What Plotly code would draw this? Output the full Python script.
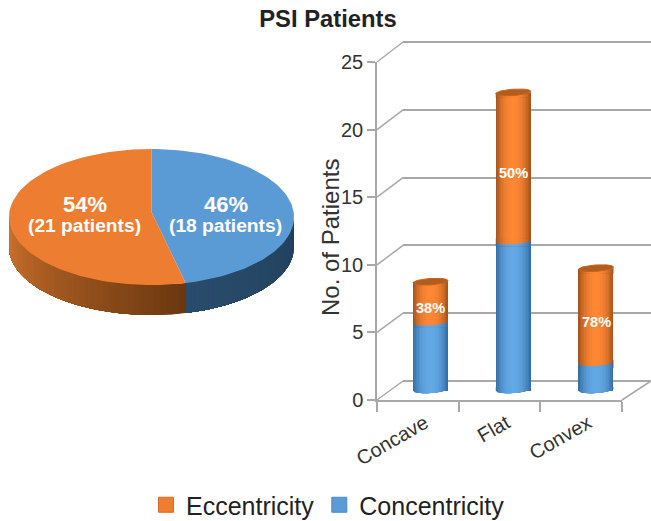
import numpy as np
import plotly.graph_objects as go

# ---- data ----
categories = ["Concave", "Flat", "Convex"]
concentricity = [5, 11, 2]
eccentricity = [3, 11, 7]
pie_names = ["Concentricity", "Eccentricity"]
pie_patients = [18, 21]
y_ticks = [0, 5, 10, 15, 20, 25]

# ---- styling ----
W, H = 651, 521
FONT = "Liberation Sans"
GREY = "#a8a8a8"
TXT = "#333333"
ORANGE, BLUE = "#ED7D31", "#5B9BD5"


def lerp(c1, c2, t):
    a = [int(c1[i:i + 2], 16) for i in (1, 3, 5)]
    b = [int(c2[i:i + 2], 16) for i in (1, 3, 5)]
    return "rgb(%d,%d,%d)" % tuple(round(p + (q - p) * t) for p, q in zip(a, b))


def xdom(a, b):
    return [a / W, b / W]


def ydom(top, bottom):
    return [(H - bottom) / H, (H - top) / H]


fig = go.Figure()

# ---- front axis (ticks and labels) : x / y ----
fig.add_trace(go.Scatter(x=categories, y=[0, 0, 0], mode="none", showlegend=False, hoverinfo="skip"))
# legend entries
for name, col, edge in [("Eccentricity", ORANGE, "#E4691B"), ("Concentricity", BLUE, "#4A8CCB")]:
    fig.add_trace(go.Scatter(x=[None], y=[None], mode="markers", name=name,
                             marker=dict(symbol="square", size=15, color=col, line=dict(color=edge, width=1))))

# ---- back wall grid : x2 / y2 ----
fig.add_trace(go.Scatter(x=[0], y=[0], mode="none", xaxis="x2", yaxis="y2", showlegend=False, hoverinfo="skip"))

# ---- cylinders : x3 / y3 ----
PX_UNIT = 13.52
BAR_W = 35 / 82.75
A = BAR_W / 2
ARC = 3.2 / PX_UNIT
TILT = 1.15 / PX_UNIT
LAP = 0.3
pos = list(range(len(categories)))
totals = [c + e for c, e in zip(concentricity, eccentricity)]
N = 12
fracs = [1 - i / N for i in range(N)]


def shade(base_edge, base_mid, f):
    return lerp(base_mid, base_edge, f ** 2.4)


ORANGE_EDGE, ORANGE_MID = "#A9551C", "#FD8733"
BLUE_EDGE, BLUE_MID = "#3670A8", "#62A8E4"


def arc_y(level, dx):
    return level + TILT + TILT * dx / A - ARC * np.sqrt(np.clip(1 - (dx / A) ** 2, 0, 1))


def under_arc(levels, half):
    """Fill from a little below each level up to the curved edge (or the level, if higher)."""
    xs, ys = [], []
    for p, lv in zip(pos, levels):
        dx = np.linspace(-half, half, 25)
        xs += list(p + dx) + [p + half, p - half, None]
        ys += list(np.maximum(arc_y(lv, dx), lv)) + [lv - LAP, lv - LAP, None]
    return xs, ys


def over_arc(levels, half):
    """Fill from the curved edge up to a little above each level."""
    xs, ys = [], []
    for p, lv in zip(pos, levels):
        dx = np.linspace(-half, half, 25)
        arc = arc_y(lv, dx)
        xs += list(p + dx) + list(p + dx[::-1]) + [None]
        ys += list(arc) + list(np.maximum(arc, lv + LAP)[::-1]) + [None]
    return xs, ys


for f in fracs:
    w = BAR_W * f
    oc, bc = shade(ORANGE_EDGE, ORANGE_MID, f), shade(BLUE_EDGE, BLUE_MID, f)
    fig.add_trace(go.Bar(x=pos, y=concentricity, base=[0, 0, 0], width=w, marker=dict(color=bc, line_width=0),
                         xaxis="x3", yaxis="y3", showlegend=False, name="Concentricity"))
    fig.add_trace(go.Bar(x=pos, y=eccentricity, base=concentricity, width=w, marker=dict(color=oc, line_width=0),
                         xaxis="x3", yaxis="y3", showlegend=False, name="Eccentricity"))
for f in fracs:
    half = A * f
    oc, bc = shade(ORANGE_EDGE, ORANGE_MID, f), shade(BLUE_EDGE, BLUE_MID, f)
    for maker, levels, col in [(over_arc, [0, 0, 0], bc), (under_arc, concentricity, bc),
                               (over_arc, concentricity, oc), (under_arc, totals, oc)]:
        xs, ys = maker(levels, half)
        fig.add_trace(go.Scatter(x=xs, y=ys, mode="lines", fill="toself", fillcolor=col, line_width=0,
                                 xaxis="x3", yaxis="y3", showlegend=False, hoverinfo="skip"))
# top ellipses
t = np.linspace(0, 2 * np.pi, 60)
xs, ys = [], []
for p, v in zip(pos, totals):
    dx = A * np.cos(t)
    xs += list(p + dx) + [None]
    ys += list(v + TILT + TILT * dx / A + ARC * np.sin(t)) + [None]
fig.add_trace(go.Scatter(x=xs, y=ys, mode="lines", fill="toself", fillcolor="#B45C1C", line=dict(color="#C0641F", width=1),
                         xaxis="x3", yaxis="y3", showlegend=False, hoverinfo="skip"))

# ---- pie : x4 / y4 ----
DEPTH = 30 / 68
APEX = 5 / 68
shares = np.array(pie_patients) / sum(pie_patients)
cuts = np.concatenate([[0], np.cumsum(shares)]) * 2 * np.pi


def rim(a0, a1, n=80):
    a = np.linspace(a0, a1, n)
    return np.sin(a), np.cos(a)


wall_cols = [("#21405C", "#2A4C6C"), ("#6B3810", "#D0742E")]  # start / end colour of each wall
for i in range(2):
    a0, a1 = max(cuts[i], np.pi / 2), min(cuts[i + 1], 1.5 * np.pi)
    edges = np.linspace(a0, a1, 41)
    for k in range(40):
        # each strip reaches to the end of the wall, so that no seams show between strips
        ax, ay = rim(edges[k], a1, 60)
        c = lerp(wall_cols[i][0], wall_cols[i][1], k / 39)
        fig.add_trace(go.Scatter(x=list(ax) + list(ax[::-1]), y=list(ay) + list(ay[::-1] - DEPTH), mode="lines",
                                 fill="toself", fillcolor=c, line_width=0, xaxis="x4", yaxis="y4",
                                 showlegend=False, hoverinfo="skip"))
for i, col in enumerate([BLUE, ORANGE]):
    ax, ay = rim(cuts[i], cuts[i + 1])
    fig.add_trace(go.Scatter(x=[0] + list(ax) + [0], y=[APEX] + list(ay) + [APEX], mode="lines", fill="toself",
                             fillcolor=col, line_width=0, xaxis="x4", yaxis="y4", showlegend=False,
                             name=pie_names[i], hoverinfo="name"))

# ---- annotations ----
ann = []
for i, c in enumerate(categories):
    pct = round(100 * eccentricity[i] / totals[i])
    ann.append(dict(x=i, y=concentricity[i] + eccentricity[i] / 2, xref="x3", yref="y3", yshift=-5, showarrow=False,
                    text=f"<b>{pct}%</b>", font=dict(family=FONT, size=14.5, color="white")))
for i, (xp, n) in enumerate(zip([0.52, -0.47], pie_patients)):
    ann.append(dict(x=xp, y=0.19, xref="x4", yref="y4", showarrow=False, text=f"<b>{round(100 * shares[i])}%</b>",
                    font=dict(family=FONT, size=22, color="white")))
    ann.append(dict(x=xp, y=-0.12, xref="x4", yref="y4", showarrow=False, text=f"<b>({n} patients)</b>",
                    font=dict(family=FONT, size=19.2, color="white")))
ann.append(dict(x=330 / W, y=1 - 238 / H, xref="paper", yref="paper", showarrow=False, textangle=-90,
                text="No. of Patients", font=dict(family=FONT, size=24, color=TXT)))

# ---- perspective connectors (depth edges of the box) ----
shapes = []
FRONT = dict(x=377, y0=400, unit=13.52)
BACK = dict(x=403, y0=381, unit=13.56)


def line(x0, y0, x1, y1):
    return dict(type="line", xref="paper", yref="paper", layer="below",
                x0=x0 / W, y0=1 - y0 / H, x1=x1 / W, y1=1 - y1 / H, line=dict(color=GREY, width=1.5))


for v in y_ticks:
    shapes.append(line(FRONT["x"], FRONT["y0"] - v * FRONT["unit"], BACK["x"], BACK["y0"] - v * BACK["unit"]))
shapes.append(line(622, 400, 651, 381))

fig.update_layout(
    width=W, height=H, autosize=False,
    margin=dict(l=0, r=0, t=0, b=0, autoexpand=False),
    paper_bgcolor="white", plot_bgcolor="rgba(0,0,0,0)",
    font=dict(family=FONT, color=TXT),
    barmode="overlay", bargap=0,
    title=dict(text="<b>PSI Patients</b>", x=328 / W, xanchor="center", y=1 - 19 / H, yanchor="middle",
               font=dict(family=FONT, size=23.8, color="#222222")),
    legend=dict(orientation="h", x=146 / W, xanchor="left", y=1 - 505 / H, yanchor="middle",
                font=dict(family=FONT, size=25, color="#222222"), itemclick=False, itemdoubleclick=False,
                bgcolor="rgba(0,0,0,0)", itemwidth=30),
    xaxis=dict(domain=xdom(377, 622), type="category", categoryorder="array", categoryarray=categories,
               range=[-0.5, 2.5], tickson="boundaries", ticks="outside", ticklen=10, tickwidth=1.5, tickcolor=GREY,
               showline=True, linecolor=GREY, linewidth=1.5, showgrid=False, zeroline=False,
               tickangle=-30, tickfont=dict(family=FONT, size=20, color=TXT), ticklabelstandoff=2,
               ticklabelshift=7),
    yaxis=dict(domain=ydom(62, 400), range=[0, 25], tickvals=y_ticks, ticks="outside", ticklen=8, tickwidth=1.5,
               tickcolor=GREY, showline=True, linecolor=GREY, linewidth=1.5, showgrid=False, zeroline=False,
               tickfont=dict(family=FONT, size=20, color=TXT)),
    xaxis2=dict(domain=xdom(403, 651), anchor="y2", visible=False, range=[0, 1]),
    # the range runs one unit past both ends, so that the 0 and 25 gridlines are kept
    yaxis2=dict(domain=ydom(42 - BACK["unit"], 381 + BACK["unit"]), anchor="x2", range=[-1, 26], tickvals=y_ticks,
                showgrid=True, gridcolor=GREY, gridwidth=1.5, showticklabels=False, ticks="", showline=False,
                zeroline=False),
    xaxis3=dict(domain=xdom(430.5 - 0.5 * 82.75, 430.5 + 2.5 * 82.75), anchor="y3", visible=False, range=[-0.5, 2.5]),
    yaxis3=dict(domain=ydom(391 - 26 * PX_UNIT, 391 + 1.0 * PX_UNIT), anchor="x3", visible=False, range=[-1, 26]),
    xaxis4=dict(domain=xdom(9, 294), anchor="y4", visible=False, range=[-1, 1]),
    yaxis4=dict(domain=ydom(149, 315), anchor="x4", visible=False, range=[-1 - DEPTH, 1]),
    annotations=ann, shapes=shapes, showlegend=True,
)

fig.write_html("out.html", post_script="document.body.style.margin='0';", config=dict(displayModeBar=False))
